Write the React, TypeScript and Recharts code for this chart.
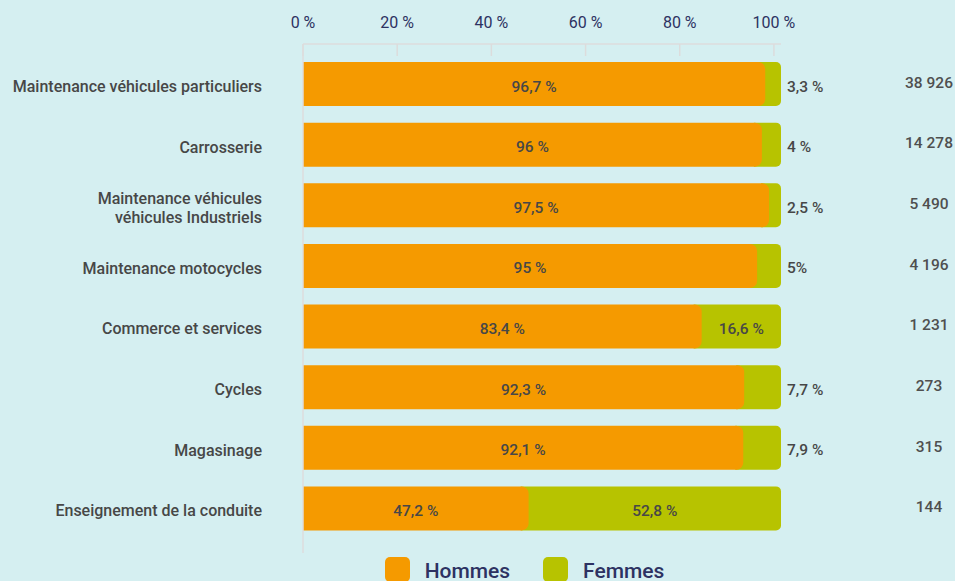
import { Bar, BarChart, LabelList, Legend, Rectangle, XAxis, YAxis } from "recharts";

const categories = [
  "Maintenance véhicules particuliers",
  "Carrosserie",
  "Maintenance véhicules\nvéhicules Industriels",
  "Maintenance motocycles",
  "Commerce et services",
  "Cycles",
  "Magasinage",
  "Enseignement de la conduite",
];
const hommes = [96.7, 96, 97.5, 95, 83.4, 92.3, 92.1, 47.2];
const femmes = [3.3, 4, 2.5, 5, 16.6, 7.7, 7.9, 52.8];
const hommesLabels = ["96,7 %", "96 %", "97,5 %", "95 %", "83,4 %", "92,3 %", "92,1 %", "47,2 %"];
const femmesLabels = ["3,3 %", "4 %", "2,5 %", "5%", "16,6 %", "7,7 %", "7,9 %", "52,8 %"];
const totals = ["38 926", "14 278", "5 490", "4 196", "1 231", "273", "315", "144"];
const xTicks = [0, 20, 40, 60, 80, 100];

const data = categories.map((name, i) => ({
  name,
  hommes: hommes[i],
  femmes: femmes[i],
  hommesLabel: hommesLabels[i],
  femmesLabel: femmesLabels[i],
  total: totals[i],
}));

const ORANGE = "#f59a00";
const GREEN = "#b7c300";
const NAVY = "#2d3262";
const GREY_TEXT = "#474747";
const LINE = "#dcdcdc";

function TopTick(props: any) {
  const { x, y, payload } = props;
  return (
    <g>
      <line x1={x} x2={x} y1={y + 16} y2={y + 28} stroke={LINE} strokeWidth={1.5} />
      <text x={x} y={y} textAnchor="middle" fill={NAVY} fontSize={16}>
        {`${payload.value} %`}
      </text>
    </g>
  );
}

function CategoryTick(props: any) {
  const { x, y, payload } = props;
  const lines = String(payload.value).split("\n");
  const lh = 19;
  const start = y + 2 - ((lines.length - 1) * lh) / 2;
  return (
    <text x={x} y={start} textAnchor="end" fill={GREY_TEXT} fontSize={16} fontWeight={500}>
      {lines.map((l, i) => (
        <tspan key={i} x={x} dy={i === 0 ? "0.355em" : lh}>
          {l}
        </tspan>
      ))}
    </text>
  );
}

function TotalTick(props: any) {
  const { x, y, payload } = props;
  return (
    <text x={x} y={y - 2} dy="0.355em" textAnchor="middle" fill="#4f4f4f" fontSize={15.5} fontWeight={500}>
      {payload.value}
    </text>
  );
}

function FemmesLabel(props: any) {
  const { x, y, width, height, value } = props;
  const inside = width > 60;
  return (
    <text
      x={inside ? x + width / 2 : x + width + 6}
      y={y + height / 2 + 2}
      dy="0.355em"
      textAnchor={inside ? "middle" : "start"}
      fill={GREY_TEXT}
      fontSize={15.5}
      fontWeight={500}
    >
      {value}
    </text>
  );
}

function HommesLabel(props: any) {
  const { x, y, width, height, value } = props;
  return (
    <text
      x={x + width / 2}
      y={y + height / 2 + 2}
      dy="0.355em"
      textAnchor="middle"
      fill={GREY_TEXT}
      fontSize={15.5}
      fontWeight={500}
    >
      {value}
    </text>
  );
}

function FemmesShape(props: any) {
  return <Rectangle {...props} x={props.x - 8} width={props.width + 8} radius={[0, 5, 5, 0]} />;
}

function LegendContent() {
  const items = [
    { label: "Hommes", color: ORANGE },
    { label: "Femmes", color: GREEN },
  ];
  return (
    <div style={{ display: "flex", justifyContent: "center", paddingLeft: 94, gap: 33, height: 28 }}>
      {items.map((it) => (
        <div key={it.label} style={{ display: "flex", alignItems: "flex-start" }}>
          <div style={{ width: 25, height: 25, marginTop: 4, borderRadius: 5, background: it.color }} />
          <span style={{ marginLeft: 15, fontSize: 21, fontWeight: 500, color: NAVY, lineHeight: "36px" }}>
            {it.label}
          </span>
        </div>
      ))}
    </div>
  );
}

export default function App() {
  return (
    <div
      style={{
        position: "absolute",
        left: 0,
        top: 0,
        width: 955,
        height: 581,
        overflow: "hidden",
        background: "#d5eff1",
        fontFamily: "Roboto, sans-serif",
      }}
    >
      <BarChart
        width={955}
        height={581}
        data={data}
        layout="vertical"
        margin={{ top: 0, right: 0, bottom: 0, left: 0 }}
        reverseStackOrder
      >
        <XAxis xAxisId="bars" type="number" domain={[0, 100]} hide />
        <XAxis
          xAxisId="ticks"
          type="number"
          orientation="top"
          domain={[0, 101.5]}
          allowDataOverflow
          ticks={xTicks}
          height={44}
          axisLine={{ stroke: LINE, strokeWidth: 1.5 }}
          tickLine={false}
          tickSize={0}
          tickMargin={16}
          tick={<TopTick />}
          interval={0}
        />
        <YAxis
          yAxisId="cat"
          type="category"
          dataKey="name"
          width={303}
          padding={{ top: 10, bottom: 14 }}
          axisLine={{ stroke: LINE, strokeWidth: 1.5 }}
          tickLine={false}
          tickSize={0}
          tickMargin={41}
          tick={<CategoryTick />}
          interval={0}
        />
        <YAxis
          yAxisId="tot"
          type="category"
          dataKey="total"
          orientation="right"
          width={174}
          padding={{ top: 10, bottom: 14 }}
          axisLine={false}
          tickLine={false}
          tickSize={0}
          tickMargin={148}
          tick={<TotalTick />}
          interval={0}
        />
        <Legend verticalAlign="bottom" content={<LegendContent />} />
        <Bar
          dataKey="femmes"
          name="Femmes"
          stackId="s"
          xAxisId="bars"
          yAxisId="cat"
          fill={GREEN}
          barSize={44}
          shape={<FemmesShape />}
          isAnimationActive={false}
        >
          <LabelList dataKey="femmesLabel" content={<FemmesLabel />} />
        </Bar>
        <Bar
          dataKey="hommes"
          name="Hommes"
          stackId="s"
          xAxisId="bars"
          yAxisId="cat"
          fill={ORANGE}
          barSize={44}
          radius={[0, 7, 7, 0]}
          isAnimationActive={false}
        >
          <LabelList dataKey="hommesLabel" content={<HommesLabel />} />
        </Bar>
      </BarChart>
    </div>
  );
}
